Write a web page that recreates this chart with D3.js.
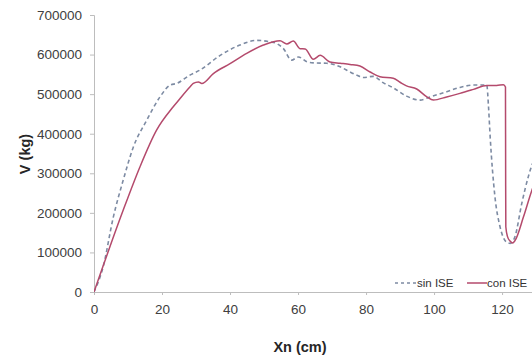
<!DOCTYPE html>
<html>
<head>
<meta charset="utf-8">
<script src="https://cdn.jsdelivr.net/npm/d3@7"></script>
<style>
  body { margin: 0; background: #fff; }
  svg { font-family: Arial, "Liberation Sans", sans-serif; }
</style>
</head>
<body>
<div id="chart"></div>
<script>
// values (x in cm, V in kg)
const sinX = [0, 2.7, 5.7, 8.6, 11.6, 15.5, 19.4, 22.4, 24.3, 28.2, 31.2, 37.1, 42.9, 47.8, 51.8, 53.7, 55.7, 58.1, 60.1, 62.6, 64.5, 68.4, 72.4, 75.3, 77.3, 79.2, 82.1, 85, 88, 91.9, 95.9, 98.8, 103.7, 107.6, 111.6, 115.5, 116, 116.5, 117.9, 119.4, 121.2, 122.4, 123.8, 125.8, 127.7, 128.8, 130];
const sinV = [0, 64000, 190000, 283000, 367000, 434000, 493000, 523000, 527000, 548000, 561000, 598000, 624000, 636000, 632000, 628000, 615000, 586000, 594000, 582000, 579000, 578000, 569000, 556000, 548000, 542000, 545000, 529000, 516000, 495000, 485000, 493000, 506000, 517000, 523000, 523000, 470000, 392000, 241000, 165000, 127000, 123000, 140000, 224000, 291000, 321000, 345000];
const conX = [0, 8.6, 13.5, 18.4, 23.3, 25.3, 28.2, 29.2, 30.7, 31.7, 35.1, 40, 44.9, 49.8, 54.7, 56.7, 58.6, 60.6, 62.1, 64.5, 66.5, 69.4, 72.4, 75.3, 78.2, 81.2, 84.1, 88, 90, 91.9, 94.9, 97.9, 99.8, 103.7, 107.6, 111.6, 115.5, 118.4, 120.4, 121, 121.05, 121.1, 121.6, 122.4, 123.1, 123.8, 126.3, 128.8, 130];
const conV = [0, 207000, 316000, 409000, 468000, 489000, 518000, 527000, 531000, 527000, 552000, 577000, 603000, 624000, 635000, 627000, 634000, 615000, 614000, 588000, 598000, 581000, 578000, 575000, 571000, 556000, 544000, 540000, 530000, 521000, 513000, 493000, 485000, 493000, 502000, 512000, 522000, 522000, 524000, 518000, 300000, 165000, 140000, 128000, 124000, 130000, 190000, 258000, 285000];
const xTicks = [0, 20, 40, 60, 80, 100, 120];
const yTicks = [0, 100000, 200000, 300000, 400000, 500000, 600000, 700000];
const seriesNames = ['sin ISE', 'con ISE'];

const width = 532, height = 360;
const plotLeft = 94, plotRight = 532, plotTop = 15, plotBottom = 292;

const svg = d3.select('#chart').append('svg')
  .attr('width', width)
  .attr('height', height);

const x = d3.scaleLinear().domain([0, 128.8]).range([plotLeft, plotRight]);
const y = d3.scaleLinear().domain([0, 700000]).range([plotBottom, plotTop]);

svg.append('defs').append('clipPath').attr('id', 'plot')
  .append('rect').attr('x', plotLeft).attr('y', 0).attr('width', plotRight - plotLeft).attr('height', plotBottom + 2);

// y axis
const yAxis = svg.append('g')
  .attr('transform', `translate(${plotLeft},0)`)
  .call(d3.axisLeft(y).tickValues(yTicks).tickSize(4).tickPadding(8).tickFormat(d3.format('d')));
yAxis.select('.domain').attr('stroke', '#bdbdbd');
yAxis.selectAll('.tick line').attr('stroke', '#bdbdbd');
yAxis.selectAll('.tick text').attr('fill', '#404040').style('font-size', '13.5px');

// x axis
const xAxis = svg.append('g')
  .attr('transform', `translate(0,${plotBottom})`)
  .call(d3.axisBottom(x).tickValues(xTicks).tickSize(3).tickPadding(9));
xAxis.select('.domain').attr('stroke', '#bdbdbd');
xAxis.selectAll('.tick line').attr('stroke', '#bdbdbd');
xAxis.selectAll('.tick text').attr('fill', '#404040').style('font-size', '13.5px');

// axis titles
svg.append('text')
  .attr('x', 300).attr('y', 352)
  .attr('text-anchor', 'middle')
  .style('font-size', '14.5px').style('font-weight', 'bold').attr('fill', '#262626')
  .text('Xn (cm)');
svg.append('text')
  .attr('transform', 'translate(30,154) rotate(-90)')
  .attr('text-anchor', 'middle')
  .style('font-size', '14.5px').style('font-weight', 'bold').attr('fill', '#262626')
  .text('V (kg)');

// lines
const line = d3.line().curve(d3.curveMonotoneX).x(d => x(d[0])).y(d => y(d[1]));
const g = svg.append('g').attr('clip-path', 'url(#plot)');
g.append('path')
  .datum(sinX.map((d, i) => [d, sinV[i]]))
  .attr('d', line)
  .attr('fill', 'none')
  .attr('stroke', '#7d8ba3')
  .attr('stroke-width', 1.6)
  .attr('stroke-dasharray', '4,3');
g.append('path')
  .datum(conX.map((d, i) => [d, conV[i]]))
  .attr('d', line)
  .attr('fill', 'none')
  .attr('stroke', '#b44a6c')
  .attr('stroke-width', 1.5);

// legend
const legend = svg.append('g').style('font-size', '11.5px').attr('fill', '#333');
legend.append('line')
  .attr('x1', 395).attr('x2', 416).attr('y1', 283).attr('y2', 283)
  .attr('stroke', '#7d8ba3').attr('stroke-width', 1.6).attr('stroke-dasharray', '3,3');
legend.append('text').attr('x', 417).attr('y', 287).text(seriesNames[0]);
legend.append('line')
  .attr('x1', 467).attr('x2', 487).attr('y1', 283).attr('y2', 283)
  .attr('stroke', '#b44a6c').attr('stroke-width', 1.5);
legend.append('text').attr('x', 487).attr('y', 287).text(seriesNames[1]);
</script>
</body>
</html>
